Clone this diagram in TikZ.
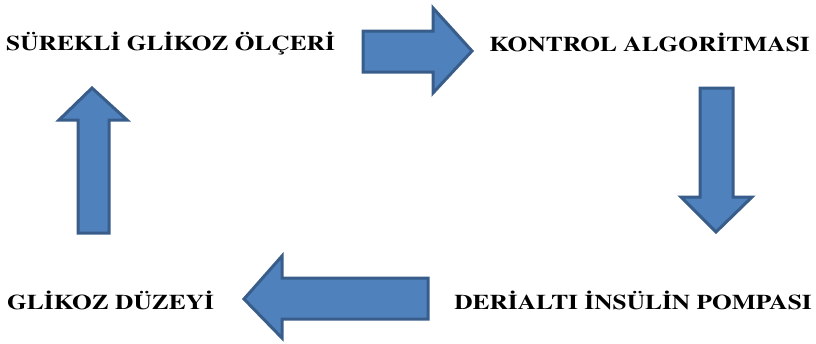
\documentclass[tikz,border=0pt]{standalone}
\usepackage{fontspec}
\setmainfont{texgyretermes}[Extension=.otf, UprightFont=*-regular, BoldFont=*-bold, ItalicFont=*-italic, BoldItalicFont=*-bolditalic]
% wide bold face for the stage names
\newfontfamily\stagefont{texgyretermes-bold}[Extension=.otf, FakeStretch=1.21]
\begin{document}
\begin{tikzpicture}[x=1pt,y=-1pt,
  blockarrow/.style={draw=arrowedge, fill=arrowfill, line width=3pt, line join=miter},
  stagetext/.style={anchor=base west, inner sep=0pt, font=\stagefont\fontsize{21}{25}\selectfont}]
\definecolor{arrowfill}{HTML}{4F81BD}
\definecolor{arrowedge}{HTML}{385D8A}
\useasboundingbox (0,0) rectangle (816,343);

% stage labels
\node[stagetext] (cgm)  at (6,50)   {SÜREKLİ GLİKOZ ÖLÇERİ};
\node[stagetext, anchor=base east] (ctrl) at (810,51) {KONTROL ALGORİTMASI};
\node[stagetext, anchor=base east] (pump) at (812,309){DERİALTI İNSÜLİN POMPASI};
\node[stagetext] (gluc) at (7,309)  {GLİKOZ DÜZEYİ};

% right arrow: sensor -> controller
\draw[blockarrow] (363,31) -- (433,31) -- (433,8) -- (472,51) -- (433,93) -- (433,72) -- (363,72) -- cycle;
% down arrow: controller -> pump
\draw[blockarrow] (700,88) -- (733,88) -- (733,197) -- (752,197) -- (716,232) -- (681,197) -- (700,197) -- cycle;
% left arrow: pump -> glucose level
\draw[blockarrow] (428,278) -- (282,278) -- (282,256) -- (244,299) -- (282,338) -- (282,319) -- (428,319) -- cycle;
% up arrow: glucose level -> sensor
\draw[blockarrow] (78,233) -- (78,120) -- (59,120) -- (92,88) -- (127,120) -- (109,120) -- (109,233) -- cycle;
\end{tikzpicture}
\end{document}
